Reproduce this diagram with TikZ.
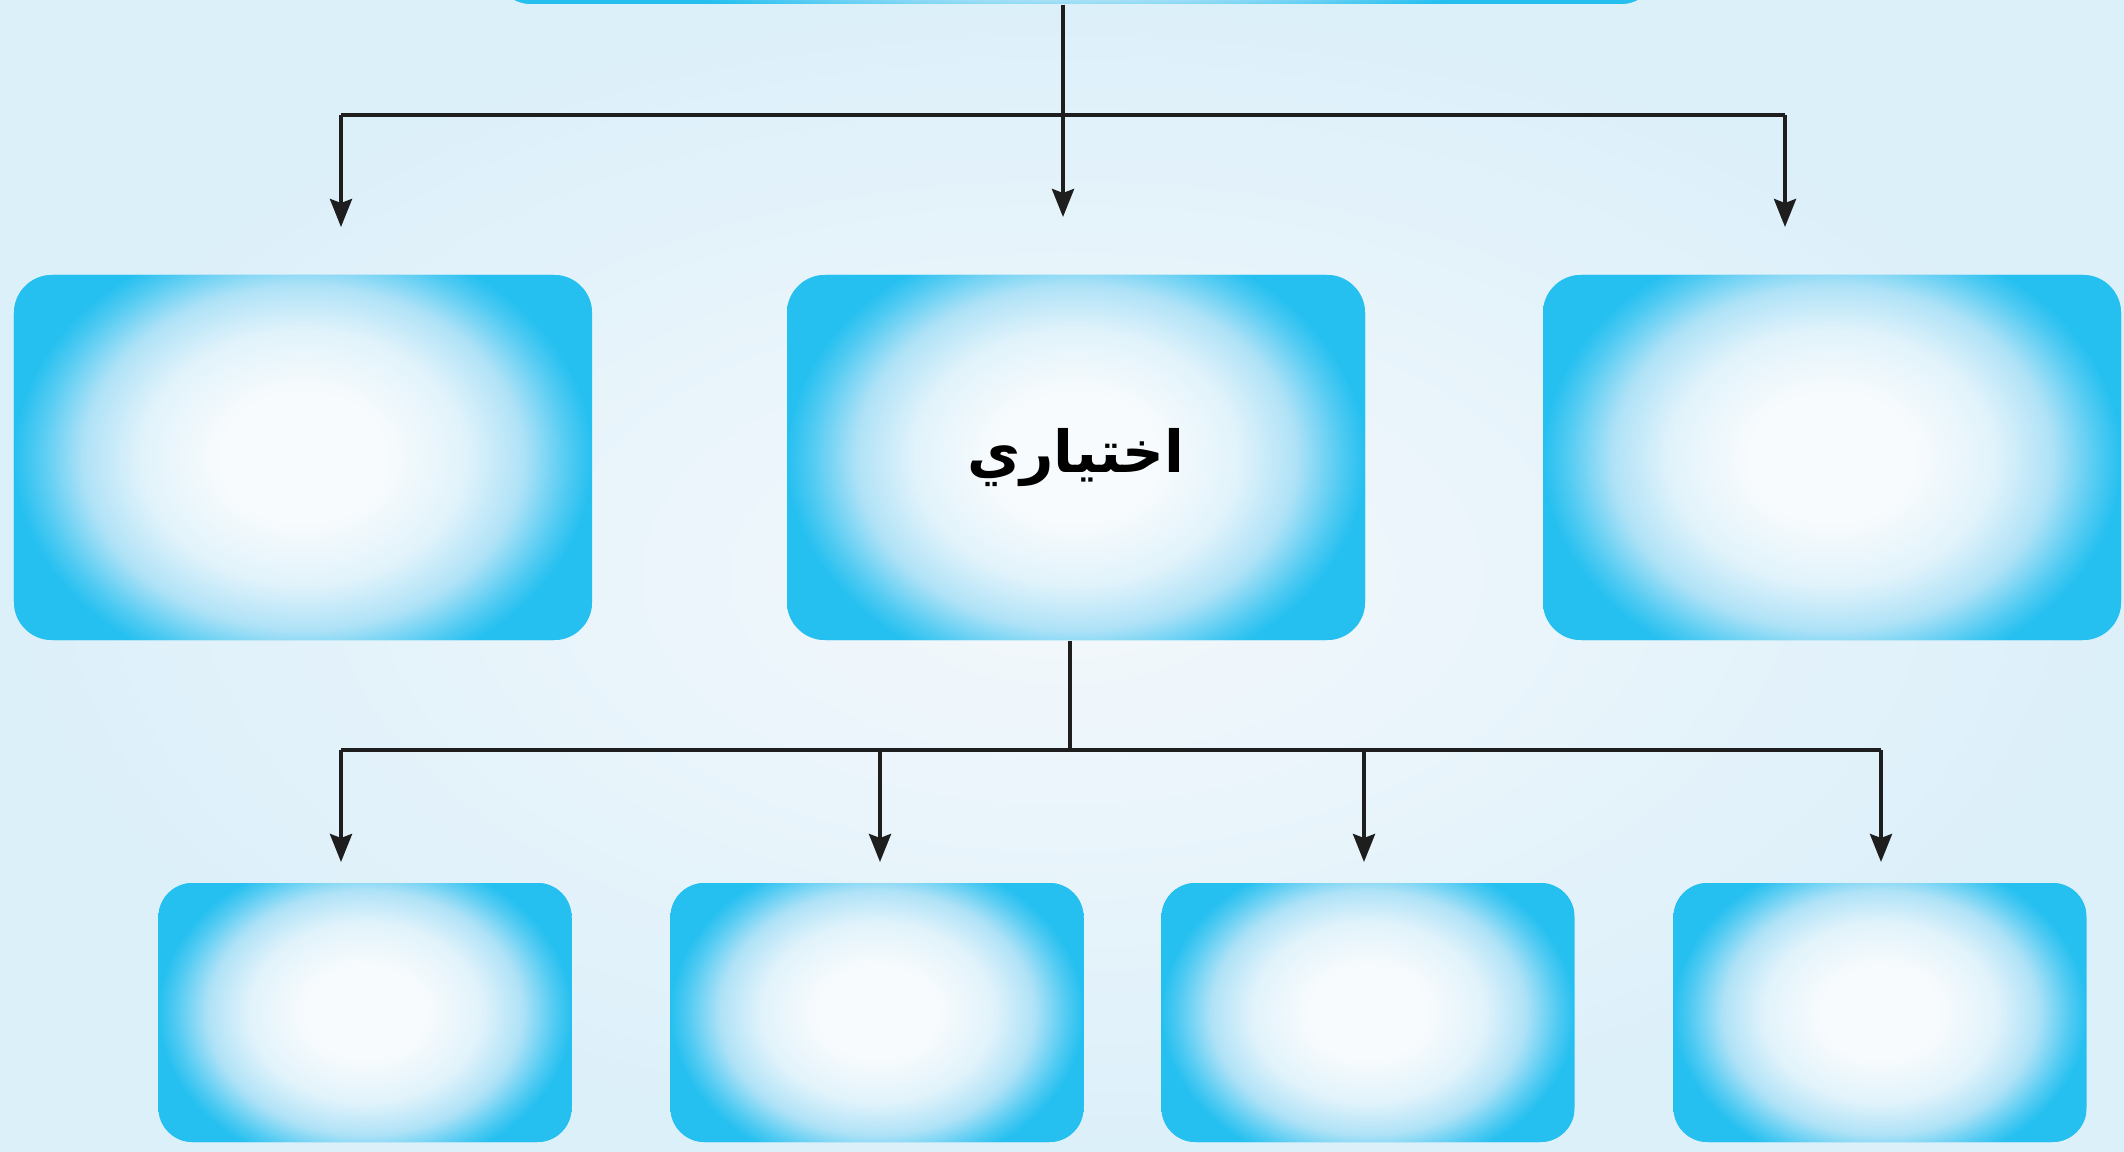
\documentclass[tikz,border=0pt]{standalone}
\usepackage{fontspec}
\usetikzlibrary{arrows.meta,calc}
\newfontfamily\arabicfont[Script=Arabic]{DejaVu Sans}
\TeXXeTstate=1
\definecolor{bgin}{RGB}{244,248,251}
\definecolor{bgout}{RGB}{220,240,250}
\definecolor{boxin}{RGB}{248,251,253}
\definecolor{boxlight}{RGB}{225,243,251}
\definecolor{boxmid}{RGB}{175,226,247}
\definecolor{boxout}{RGB}{38,192,240}
\definecolor{linegray}{RGB}{30,30,30}
\pgfdeclareradialshading{boxglow}{\pgfpoint{0bp}{0bp}}{color(0bp)=(boxin); color(7bp)=(boxin); color(14bp)=(boxlight); color(19bp)=(boxmid); color(23bp)=(boxout!70!boxmid); color(25bp)=(boxout); color(50bp)=(boxout)}
\tikzset{
  card/.style={rounded corners=3.8mm, inner sep=0pt, fill=boxout,
    path picture={
      \shade[shading=boxglow, sharp corners]
        ($(path picture bounding box.south west)!-0.12!(path picture bounding box.north west)$)
        rectangle
        ($(path picture bounding box.north east)!-0.12!(path picture bounding box.south east)$);
    }},
  bigcard/.style={card, minimum width=5.78cm, minimum height=3.65cm},
  smallcard/.style={card, minimum width=4.13cm, minimum height=2.59cm, rounded corners=3.4mm},
  link/.style={draw=linegray, line width=1.1pt},
  arrow/.style={link, -{Stealth[length=2.8mm,width=2.2mm,inset=0.4mm]}}
}

\begin{document}
\begin{tikzpicture}
      \useasboundingbox (0,0) rectangle (21.24,-11.52);
      \clip (0,0) rectangle (21.24,-11.52);
      \shade[inner color=bgin, outer color=bgout] (0,0) rectangle (21.24,-11.52);

      % top box (cut by the page edge)
      \node[card, minimum width=11.65cm, minimum height=2cm] (top) at (10.76,0.96) {};

      % middle row
      \node[bigcard] (sideL) at (3.03,-4.575) {};
      \node[bigcard] (optional) at (10.76,-4.575) {\arabicfont\bfseries\fontsize{16.5}{19}\selectfont\beginR اختياري\endR};
      \node[bigcard] (sideR) at (18.32,-4.575) {};

      % bottom row
      \node[smallcard] (sub1) at (3.65,-10.125) {};
      \node[smallcard] (sub2) at (8.77,-10.125) {};
      \node[smallcard] (sub3) at (13.68,-10.125) {};
      \node[smallcard] (sub4) at (18.80,-10.125) {};

      % first split
      \coordinate (hub1) at (10.63,-1.15);
      \coordinate (hub1L) at (3.41,-1.15);
      \coordinate (hub1R) at (17.85,-1.15);
      \coordinate (end1L) at (3.41,-2.27);
      \coordinate (end1M) at (10.63,-2.17);
      \coordinate (end1R) at (17.85,-2.27);
      \draw[link] (top.south -| hub1) -- (hub1);
      \draw[link, line width=1.4pt] (hub1L) -- (hub1R);
      \draw[arrow] (hub1L) -- (end1L);
      \draw[arrow] (hub1) -- (end1M);
      \draw[arrow] (hub1R) -- (end1R);

      % second split
      \coordinate (hub2) at (10.70,-7.50);
      \coordinate (hub2A) at (3.41,-7.50);
      \coordinate (hub2B) at (8.80,-7.50);
      \coordinate (hub2C) at (13.64,-7.50);
      \coordinate (hub2D) at (18.81,-7.50);
      \draw[link] (optional.south -| hub2) -- (hub2);
      \draw[link] (hub2A) -- (hub2D);
      \foreach \h in {A,B,C,D}
        \draw[arrow] (hub2\h) -- ($(hub2\h)+(0,-1.12)$);

\end{tikzpicture}
\end{document}
